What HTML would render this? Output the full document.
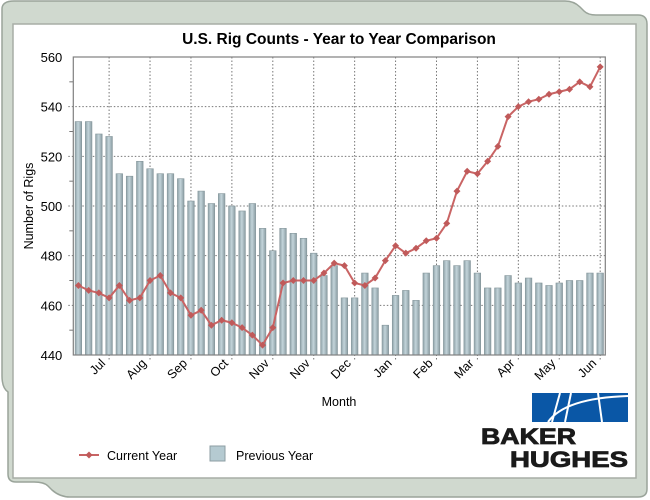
<!DOCTYPE html>
<html><head><meta charset="utf-8"><style>
html,body{margin:0;padding:0;background:#fff;}
svg{display:block;font-family:"Liberation Sans",sans-serif;}
</style></head><body>
<svg width="650" height="500" viewBox="0 0 650 500" xmlns="http://www.w3.org/2000/svg">
<path d="M14,1 L565,1 Q574,1 580,7 L584,11 Q588,15 596,15 L638,15 Q647,15 647,24 L647,489 Q647,497 638,497 L70,497 Q60,497 52,490 L48,486 Q44,482 34,482 L16,482 Q8,482 8,474 L8,392 Q2,388 2,376 L2,9 Q2,1 14,1 Z" fill="#d0d9cf" stroke="#9aa49a" stroke-width="1.5"/>
<rect x="13" y="24" width="623" height="454" fill="#ffffff" stroke="#a7aea6" stroke-width="1.5"/>
<text x="339" y="44" text-anchor="middle" font-size="15.5" font-weight="bold" fill="#000">U.S. Rig Counts - Year to Year Comparison</text>
<g id="grid"></g>
<g id="bars"></g>
<g id="line"></g>
<g id="axes"></g>
<text transform="translate(33,206) rotate(-90)" text-anchor="middle" font-size="12.5" fill="#000">Number of Rigs</text>
<text x="339" y="406" text-anchor="middle" font-size="12.5" fill="#000">Month</text>
<g>
 <g>
  <line x1="79" y1="455" x2="99" y2="455" stroke="#c86464" stroke-width="2"/>
  <path d="M89,451.5 L92.5,455 L89,458.5 L85.5,455 Z" fill="#c05a5a"/>
  <text x="107" y="460" font-size="12.5" fill="#000">Current Year</text>
 </g>
 <g>
  <rect x="210" y="446" width="15" height="15" fill="#b5cad1" stroke="#8d9ea3"/>
  <text x="236" y="460" font-size="12.5" fill="#000">Previous Year</text>
 </g>
</g>
<g>
 <rect x="532" y="393" width="96" height="29" fill="#0a57a6"/>
 <path d="M552,422 L560,393 M565,422 L571,393 M602,422 L598,393 M548,422 Q565,398 628,396" stroke="#fff" stroke-width="2" fill="none"/>
 <text x="481" y="444" font-size="22" font-weight="bold" fill="#1a1a1a" stroke="#1a1a1a" stroke-width="0.8" textLength="95" lengthAdjust="spacingAndGlyphs">BAKER</text>
 <text x="510" y="467" font-size="22" font-weight="bold" fill="#1a1a1a" stroke="#1a1a1a" stroke-width="0.8" textLength="118" lengthAdjust="spacingAndGlyphs">HUGHES</text>
</g>
</svg>
<script>
const months = ["Jul","Aug","Sep","Oct","Nov","Nov","Dec","Jan","Feb","Mar","Apr","May","Jun"];
const yTicks = [440,460,480,500,520,540,560];
const previousYear = [534,534,529,528,513,512,518,515,513,513,511,502,506,501,505,500,498,501,491,482,491,489,487,481,472,476,463,463,473,467,452,464,466,462,473,476,478,476,478,473,467,467,472,469,471,469,468,469,470,470,473,473];
const currentYear = [468,466,465,463,468,462,463,470,472,465,463,456,458,452,454,453,451,448,444,451,469,470,470,470,473,477,476,469,468,471,478,484,481,483,486,487,493,506,514,513,518,524,536,540,542,543,545,546,547,550,548,556];

const NS="http://www.w3.org/2000/svg";
const L=73.3,R=605.3,T=57,B=355,YMIN=440,YMAX=560;
const n=previousYear.length, band=(R-L)/n;
function xs(i){return L+(i+0.5)*band;}
function ys(v){return B-(v-YMIN)/(YMAX-YMIN)*(B-T);}
function mk(tag,attrs,parent){const e=document.createElementNS(NS,tag);for(const k in attrs)e.setAttribute(k,attrs[k]);parent.appendChild(e);return e;}
const grid=document.getElementById('grid'),bars=document.getElementById('bars'),line=document.getElementById('line'),axes=document.getElementById('axes');
const defs=mk('defs',{},grid);
const lg=mk('linearGradient',{id:'bg',x1:'0',x2:'1',y1:'0',y2:'0'},defs);
mk('stop',{offset:'0','stop-color':'#8fa2a8'},lg);mk('stop',{offset:'0.45','stop-color':'#c3d4da'},lg);mk('stop',{offset:'1','stop-color':'#8a9ca2'},lg);
yTicks.forEach(v=>{
 if(v>YMIN&&v<YMAX){const g=mk('line',{x1:L-5,x2:R,y1:ys(v),y2:ys(v),stroke:'#777','stroke-dasharray':'1.5,2','stroke-width':1},grid);
 }
 const t=mk('text',{x:L-11,y:ys(v)+5,'text-anchor':'end','font-size':13,fill:'#000'},axes);t.textContent=v;
 
});
for(let v=YMIN+10;v<YMAX;v+=20){mk('line',{x1:L-4,x2:L,y1:ys(v),y2:ys(v),stroke:'#777'},axes);}
months.forEach((m,k)=>{
 const i=3+4*k,x=xs(i);
 const g=mk('line',{x1:x,x2:x,y1:T,y2:B+5,stroke:'#777','stroke-dasharray':'1.5,2','stroke-width':1},grid);
 
 const t=mk('text',{transform:`translate(${x-3},${B+9}) rotate(-45)`,'text-anchor':'end','font-size':12.5,fill:'#000'},axes);
 t.textContent=m;
 
});
previousYear.forEach((v,i)=>{
 const r=mk('rect',{x:xs(i)-3.3,y:ys(v),width:6.6,height:B-ys(v),fill:'url(#bg)',stroke:'#85969b','stroke-width':0.6},bars);
 
});
const p=mk('polyline',{points:currentYear.map((v,i)=>xs(i)+','+ys(v)).join(' '),fill:'none',stroke:'#c96464','stroke-width':2},line);

currentYear.forEach((v,i)=>{
 const x=xs(i),y=ys(v);
 const d=mk('path',{d:`M${x},${y-3.5} L${x+3.5},${y} L${x},${y+3.5} L${x-3.5},${y} Z`,fill:'#c05a5a'},line);
 
});
const fr=mk('rect',{x:L,y:T,width:R-L,height:B-T,fill:'none',stroke:'#808080','stroke-width':1.2},axes);

</script>
</body></html>
